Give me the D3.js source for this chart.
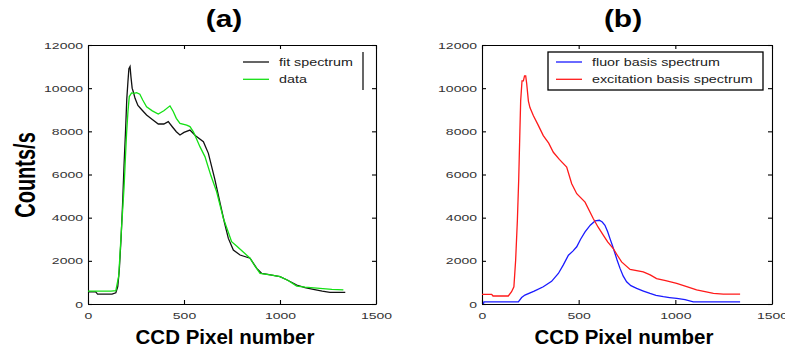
<!DOCTYPE html>
<html>
<head>
<meta charset="utf-8">
<script src="https://cdn.jsdelivr.net/npm/d3@7"></script>
<style>
  body { margin: 0; background: #fff; }
  svg { display: block; font-family: "Liberation Sans", Arial, sans-serif; }
</style>
</head>
<body>
<div id="chart"></div>
<script>
// ---- data ----
var xTicks = [0, 500, 1000, 1500];
var yTicks = [0, 2000, 4000, 6000, 8000, 10000, 12000];

// panel (a): fit spectrum (black)
var fitX = [0, 40, 50, 125, 145, 155, 163, 172, 180, 188, 195, 202, 208, 213, 219, 224, 230, 237, 245, 260, 280, 305, 335, 366, 395, 418, 440, 460, 479, 500, 531, 560, 601, 627, 660, 688, 710, 731, 757, 792, 844, 879, 905, 950, 1000, 1040, 1087, 1130, 1174, 1220, 1260, 1300, 1340];
var fitY = [560, 560, 460, 460, 520, 800, 1575, 3000, 4600, 6500, 7910, 9500, 10300, 10900, 11000, 10500, 10000, 9800, 9530, 9200, 9000, 8760, 8550, 8340, 8340, 8450, 8200, 7980, 7830, 7950, 8060, 7800, 7520, 6980, 5800, 4670, 3800, 3040, 2500, 2270, 2120, 1650, 1420, 1350, 1270, 1100, 880, 760, 680, 600, 540, 540, 540];

// panel (a): data (green)
var dataX = [0, 120, 145, 160, 175, 188, 195, 201, 208, 215, 227, 240, 253, 270, 285, 305, 335, 366, 395, 427, 444, 460, 479, 514, 531, 549, 583, 609, 640, 670, 705, 748, 774, 810, 844, 870, 896, 950, 1000, 1040, 1087, 1130, 1208, 1270, 1330];
var dataY = [600, 600, 620, 1300, 3580, 5440, 6800, 7910, 8900, 9610, 9780, 9760, 9790, 9720, 9450, 9140, 8950, 8800, 8950, 9180, 8920, 8600, 8370, 8290, 8220, 7980, 7290, 6830, 5950, 5200, 3970, 2890, 2690, 2400, 2120, 1750, 1420, 1350, 1270, 1100, 830, 780, 725, 680, 650];

// panel (b): fluor basis spectrum (blue)
var fluorX = [7, 10, 188, 205, 222, 270, 317, 360, 395, 420, 447, 470, 490, 510, 533, 560, 585, 607, 622, 636, 650, 662, 675, 688, 700, 714, 730, 748, 770, 800, 835, 869, 900, 938, 970, 1007, 1050, 1093, 1200, 1335];
var fluorY = [0, 100, 100, 300, 415, 600, 800, 1050, 1415, 1800, 2260, 2450, 2650, 3000, 3340, 3650, 3850, 3880, 3800, 3650, 3350, 3030, 2700, 2340, 2000, 1650, 1300, 1030, 850, 720, 600, 490, 400, 340, 300, 260, 200, 100, 100, 100];

// panel (b): excitation basis spectrum (red)
var excX = [0, 50, 57, 136, 153, 165, 174, 183, 190, 196, 200, 207, 214, 220, 226, 231, 240, 248, 266, 290, 317, 345, 369, 400, 438, 464, 490, 533, 576, 600, 628, 650, 679, 700, 722, 766, 834, 870, 903, 950, 1007, 1059, 1110, 1160, 1197, 1248, 1335];
var excY = [450, 450, 370, 370, 570, 800, 2030, 3880, 5800, 8000, 9410, 10340, 10340, 10570, 10570, 10230, 9400, 9100, 8720, 8300, 7800, 7450, 7030, 6700, 6340, 5570, 5110, 4720, 3950, 3570, 3180, 2880, 2570, 2260, 1950, 1600, 1490, 1350, 1180, 1080, 955, 800, 650, 560, 490, 460, 460];

var width = 785, height = 349;
var SX = 1.43; // text in the picture is stretched sideways

var svg = d3.select("#chart").append("svg")
  .attr("width", width)
  .attr("height", height);

// stretch text horizontally to match the picture
function stretch(sel, k) {
  sel.each(function() {
    var L = this.getComputedTextLength();
    this.setAttribute("textLength", L * k);
    this.setAttribute("lengthAdjust", "spacingAndGlyphs");
  });
}

function panel(box, title, series, legend) {
  var x = d3.scaleLinear().domain([0, 1500]).range([box.x0, box.x1]);
  var y = d3.scaleLinear().domain([0, 12000]).range([box.y1, box.y0]);
  var fmt = d3.format("d");

  // axes (inward ticks on all four sides)
  var gb = svg.append("g").attr("transform", "translate(0," + box.y1 + ")")
    .call(d3.axisBottom(x).tickValues(xTicks).tickFormat(fmt).tickSizeInner(-4).tickSizeOuter(0).tickPadding(8));
  var gl = svg.append("g").attr("transform", "translate(" + box.x0 + ",0)")
    .call(d3.axisLeft(y).tickValues(yTicks).tickFormat(fmt).tickSizeInner(-4).tickSizeOuter(0).tickPadding(5));
  svg.append("g").attr("transform", "translate(0," + box.y0 + ")")
    .call(d3.axisTop(x).tickValues(xTicks).tickSizeInner(-4).tickSizeOuter(0).tickFormat(""));
  svg.append("g").attr("transform", "translate(" + box.x1 + ",0)")
    .call(d3.axisRight(y).tickValues(yTicks).tickSizeInner(-4).tickSizeOuter(0).tickFormat(""));

  svg.selectAll(".domain, .tick line").attr("stroke", "#000").attr("stroke-width", 1.1);

  gb.selectAll("text").attr("font-size", 9.8).attr("fill", "#333")
    .attr("font-family", "Liberation Sans, Arial, sans-serif").call(stretch, SX);
  gl.selectAll("text").attr("font-size", 9.8).attr("fill", "#333")
    .attr("font-family", "Liberation Sans, Arial, sans-serif").call(stretch, SX);

  // lines
  var line = d3.line().x(d => x(d[0])).y(d => y(d[1]));
  series.forEach(function(s) {
    var pts = s.xs.map((v, i) => [v, s.ys[i]]);
    svg.append("path")
      .datum(pts)
      .attr("d", line)
      .attr("fill", "none")
      .attr("stroke", s.color)
      .attr("stroke-width", 1.3);
  });

  // title
  svg.append("text")
    .attr("x", box.cx)
    .attr("y", 27)
    .attr("text-anchor", "middle")
    .attr("font-size", 23)
    .attr("font-weight", "bold")
    .text(title)
    .call(stretch, 1.3);

  // x axis label
  svg.append("text")
    .attr("x", box.cx + 1)
    .attr("y", 344)
    .attr("text-anchor", "middle")
    .attr("font-size", 20.5)
    .attr("font-weight", "bold")
    .text("CCD Pixel number");

  // legend
  var lg = svg.append("g");
  if (legend.box) {
    lg.append("rect")
      .attr("x", legend.box[0]).attr("y", legend.box[1])
      .attr("width", legend.box[2]).attr("height", legend.box[3])
      .attr("fill", "#fff").attr("stroke", "#000").attr("stroke-width", 1.3);
  }
  if (legend.bar) {
    lg.append("line")
      .attr("x1", legend.bar[0]).attr("x2", legend.bar[0])
      .attr("y1", legend.bar[1]).attr("y2", legend.bar[2])
      .attr("stroke", "#000").attr("stroke-width", 1.2);
  }
  series.forEach(function(s, i) {
    var yy = legend.y + i * 17.3;
    lg.append("line")
      .attr("x1", legend.x).attr("x2", legend.x + 26)
      .attr("y1", yy).attr("y2", yy)
      .attr("stroke", s.color).attr("stroke-width", 1.3);
    lg.append("text")
      .attr("x", legend.x + 36)
      .attr("y", yy + 4)
      .attr("font-size", 10)
      .attr("fill", "#222")
      .text(s.name)
      .call(stretch, SX);
  });
}

panel({x0: 88, x1: 376, y0: 45, y1: 304, cx: 224}, "(a)",
  [{name: "fit spectrum", xs: fitX, ys: fitY, color: "#111"},
   {name: "data", xs: dataX, ys: dataY, color: "#14e014"}],
  {x: 243, y: 62, bar: [363, 52, 90]});

panel({x0: 482, x1: 772, y0: 45, y1: 304, cx: 623}, "(b)",
  [{name: "fluor basis spectrum", xs: fluorX, ys: fluorY, color: "#1a1aff"},
   {name: "excitation basis spectrum", xs: excX, ys: excY, color: "#ff1a1a"}],
  {x: 556, y: 62, box: [548, 52, 215, 38]});

// shared y label
svg.append("text")
  .attr("transform", "translate(35,175) scale(" + SX + ",1) rotate(-90)")
  .attr("text-anchor", "middle")
  .attr("font-size", 20)
  .attr("font-weight", "bold")
  .text("Counts/s");
</script>
</body>
</html>
